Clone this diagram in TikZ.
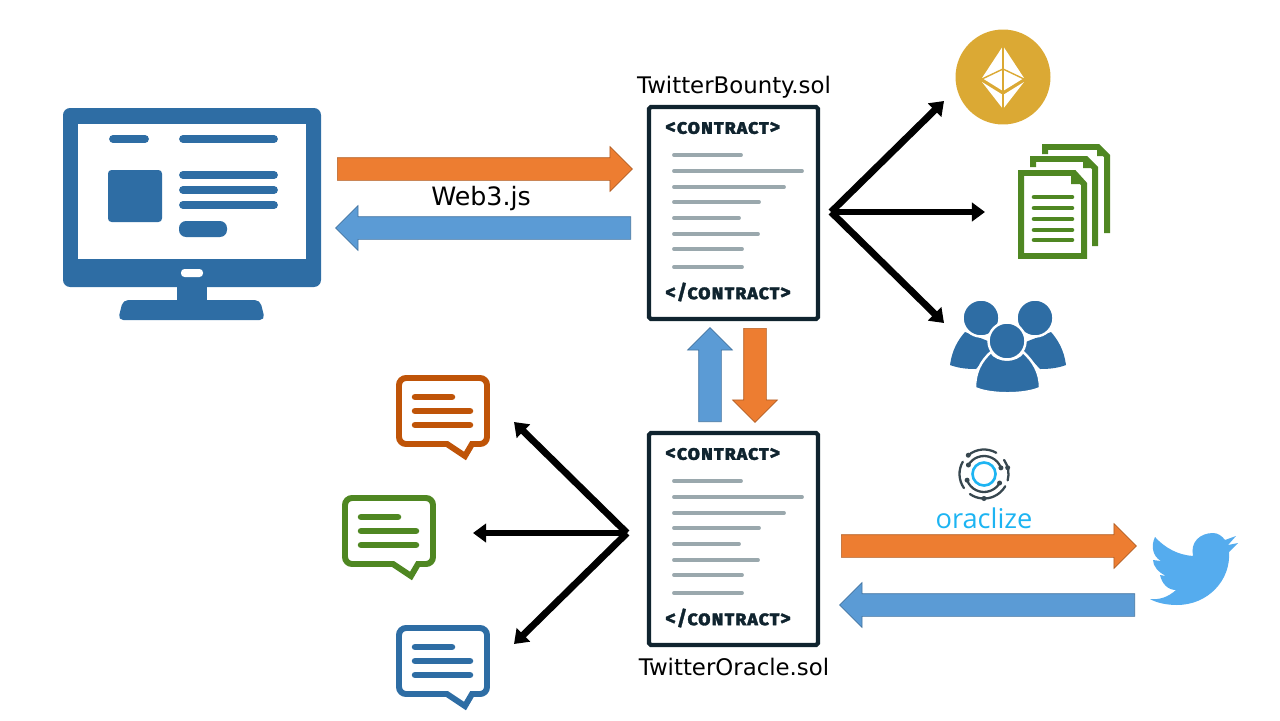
\documentclass[tikz,border=0pt]{standalone}
\usepackage{fontspec}
\setmainfont{DejaVu Sans}
\newfontfamily\contractfont[Letters=SmallCaps,LetterSpace=4,FakeBold=1.6]{Fira Sans Bold}
\newfontfamily\oraclefont{Open Sans}
\usetikzlibrary{shapes,arrows,positioning,calc,arrows.meta}
\definecolor{arroworange}{HTML}{ED7D31}
\definecolor{arrowblue}{HTML}{5B9BD5}
\definecolor{iconblue}{HTML}{2E6DA4}
\definecolor{icongreen}{HTML}{4F8722}
\definecolor{iconorange}{HTML}{BF5408}
\definecolor{coingold}{HTML}{DBA934}
\definecolor{docdark}{HTML}{10242F}
\definecolor{docgray}{HTML}{9AA8AD}
\definecolor{birdblue}{HTML}{55ACEE}
\definecolor{oraclecyan}{HTML}{1DB4F2}
\definecolor{oracledark}{HTML}{37474F}
\tikzset{
    blockarrow/.style={single arrow, anchor=tail, inner sep=0.22cm, single arrow head extend=0.22cm, single arrow head indent=0pt},
    orangearrow/.style={blockarrow, fill=arroworange, draw=arroworange!75!black, line width=0.4pt},
    bluearrow/.style={blockarrow, fill=arrowblue, draw=arrowblue!75!black, line width=0.4pt},
    fanarrow/.style={line width=3.9pt, -{Triangle[length=7.5pt,width=10.5pt]}},
    doclabel/.style={font=\fontsize{13}{15}\selectfont, text=black, inner sep=0pt},
    contracttag/.style={font=\contractfont\fontsize{11.6}{13}\selectfont, text=docdark, anchor=west, inner sep=0pt},
    bar/.style={line width=#1, line cap=round},
}
\begin{document}
\begin{tikzpicture}[x=0.02cm, y=-0.02cm]
    \useasboundingbox (0,0) rectangle (1280,720);

    % Monitor
    \fill [iconblue, rounded corners=4pt] (63,108) rectangle (321,287);
    \fill [white] (78,124) rectangle (306,259);
    \fill [iconblue] (177,285) rectangle (207,302);
    \fill [iconblue, rounded corners=3pt] (123,300) -- (260,300) -- (265,320) -- (118,320) -- cycle;
    \fill [white, rounded corners=2pt] (181,269) rectangle (203,277);
    \fill [iconblue, rounded corners=2pt] (108,170) rectangle (162,222);
    \fill [iconblue, rounded corners=4pt] (179,221) rectangle (227,237);
    \foreach \bya/\xa/\xb in {139/113/145, 139/183/274, 175/183/274, 190/183/274, 205/183/274} {
        \draw [iconblue, bar=4.4pt] (\xa,\bya) -- (\xb,\bya);
    }

    % Contracts
    \foreach \cy/\cname/\cfile/\clabely in {0/bounty/TwitterBounty.sol/87, 326/oracle/TwitterOracle.sol/341} {
        \begin{scope}[shift={(0,\cy)}]
            \node [draw=docdark, line width=2.4pt, minimum width=3.38cm, minimum height=4.24cm, inner sep=0pt, rounded corners=1pt] (\cname) at (733.5,213) {};
            \node [contracttag] (\cname open) at (665,128) {<contract>};
            \node [contracttag] (\cname close) at (665,292) {</contract>};
            \node [doclabel] (\cname file) at (734,\clabely) {\cfile};
            \foreach \ly/\lx in {155/741, 171/802, 187/784, 202/759, 218/739, 234/758, 249/742, 267/742} {
                \draw [docgray, bar=2.2pt] (674,\ly) -- (\lx,\ly);
            }
        \end{scope}
    }

    % Block arrows
    \node [orangearrow, minimum height=5.9cm] (callarrow) at (337,169) {};
    \node [bluearrow, minimum height=5.9cm, rotate=180] (backarrow) at (631,228) {};
    \node [bluearrow, minimum height=1.88cm, rotate=90] (uparrow) at (710,422) {};
    \node [orangearrow, minimum height=1.88cm, rotate=-90] (downarrow) at (755,328) {};
    \node [orangearrow, minimum height=5.9cm] (queryarrow) at (841,546) {};
    \node [bluearrow, minimum height=5.9cm, rotate=180] (replyarrow) at (1135,605) {};
    \node [doclabel, font=\fontsize{14.4}{16}\selectfont] (webthree) at (481,199) {Web3.js};

    % Fan on the right
    \coordinate (hubright) at (831,212);
    \coordinate (tipcoin) at (944,101);
    \coordinate (tipdocs) at (985,212);
    \coordinate (tipusers) at (944,323);
    \foreach \tip in {tipcoin, tipdocs, tipusers} {
        \draw [fanarrow] (hubright) -- (\tip);
    }

    % Fan on the left
    \coordinate (hubleft) at (627,533);
    \coordinate (tiporange) at (514,422);
    \coordinate (tipgreen) at (473,533);
    \coordinate (tipblue) at (514,644);
    \foreach \tip in {tiporange, tipgreen, tipblue} {
        \draw [fanarrow] (hubleft) -- (\tip);
    }

    % Coin
    \node [circle, fill=coingold, minimum size=1.9cm, inner sep=0pt] (coin) at (1003,77) {};
    \fill [white] (1003,46) -- (1024,78) -- (1003,91) -- (982,78) -- cycle;
    \fill [white] (982,82) -- (1003,95) -- (1024,82) -- (1003,109) -- cycle;
    \draw [coingold, line width=0.8pt] (1003,46) -- (1003,109);
    \draw [coingold, line width=0.8pt] (982,79) -- (1003,69) -- (1024,79);

    % Pages
    \draw [icongreen, line width=3.4pt] (1045,154) -- (1045,147) -- (1098,147) -- (1107,156) -- (1107,233);
    \draw [icongreen, line width=3.4pt] (1033,167) -- (1033,159) -- (1086,159) -- (1095,168) -- (1095,246);
    \fill [icongreen] (1097,144) -- (1097,156) -- (1110,156) -- cycle;
    \fill [icongreen] (1083,156) -- (1083,168) -- (1098,168) -- cycle;
    \draw [icongreen, fill=white, line width=3.4pt] (1021,173) -- (1074,173) -- (1084,184) -- (1084,256) -- (1021,256) -- cycle;
    \fill [icongreen] (1071,170) -- (1071,184) -- (1087,184) -- cycle;
    \foreach \ly in {197, 208, 219, 230, 240} {
        \draw [icongreen, bar=2.6pt] (1034,\ly) -- (1072,\ly);
    }

    % Users
    \foreach \ux/\usx in {981/-1, 1035/1} {
        \fill [iconblue] (1008+\usx*58,365) .. controls (1008+\usx*56,350) and (1008+\usx*50,340) .. (1008+\usx*43,332) -- (1008+\usx*10,345) -- (1008+\usx*32,369) .. controls (1008+\usx*42,369) and (1008+\usx*50,368) .. (1008+\usx*58,365) -- cycle;
        \draw [fill=iconblue, draw=white, line width=1.4pt] (\ux,318) circle (18.5);
    }
    \draw [fill=iconblue, draw=white, line width=1.4pt] (975,388) .. controls (975,372) and (981,361) .. (991,352) .. controls (997,362) and (1017,362) .. (1023,352) .. controls (1033,361) and (1040,372) .. (1040,388) .. controls (1025,395) and (990,395) .. (975,388) -- cycle;
    \draw [fill=iconblue, draw=white, line width=1.4pt] (1007,341) circle (18.5);

    % Speech bubbles
    \foreach \bx/\by/\bcol in {0/0/iconorange, -54/120/icongreen, 0/250/iconblue} {
        \begin{scope}[shift={(\bx,\by)}]
            \draw [\bcol, line width=3.4pt, miter limit=4] (440,378) [rounded corners=4pt] -- (487,378) -- (487,444) [sharp corners] -- (472,444) -- (465,456) -- (447,444) [rounded corners=4pt] -- (399,444) -- (399,378) -- cycle;
            \draw [\bcol, bar=3.7pt] (415,397) -- (452,397);
            \draw [\bcol, bar=3.7pt] (415,411) -- (470,411);
            \draw [\bcol, bar=3.7pt] (415,425) -- (470,425);
        \end{scope}
    }

    % Oracle logo
    \draw [oraclecyan, line width=1.5pt] (984,474) circle (11.5);
    \foreach \ra/\rb/\rr in {20/150/18, 200/330/18, 60/130/24.5, 150/215/24.5, 235/330/24.5, 345/395/24.5} {
        \draw [oracledark, line width=1.3pt, line cap=round] ({984+\rr*cos(\ra)},{474-\rr*sin(\ra)}) arc [start angle=-\ra, end angle=-\rb, radius=\rr];
    }
    \foreach \da/\dr in {150/18, 20/18, 200/18, 330/18, 270/24.5, 15/24.5, 130/24.5} {
        \fill [oracledark] ({984+\dr*cos(\da)},{474-\dr*sin(\da)}) circle (2.5);
    }
    \node [font=\oraclefont\fontsize{15.5}{18}\selectfont, text=oraclecyan, inner sep=0pt] (oracletext) at (984,518) {oraclize};

    % Bird
    \fill [birdblue] (1155,537) .. controls (1165,548) and (1178,555) .. (1193,556)
        .. controls (1190,542) and (1200,533) .. (1213,533)
        .. controls (1218,533) and (1222,536) .. (1225,540)
        -- (1236,536) -- (1228,545) -- (1238,543) -- (1229,552)
        .. controls (1231,580) and (1208,605) .. (1177,605)
        .. controls (1167,605) and (1157,603) .. (1150,599)
        .. controls (1160,600) and (1168,597) .. (1176,590)
        .. controls (1168,590) and (1162,584) .. (1160,575)
        -- (1166,576) .. controls (1158,572) and (1153,566) .. (1153,560)
        -- (1161,561) .. controls (1152,556) and (1151,545) .. (1155,537) -- cycle;
\end{tikzpicture}
\end{document}
